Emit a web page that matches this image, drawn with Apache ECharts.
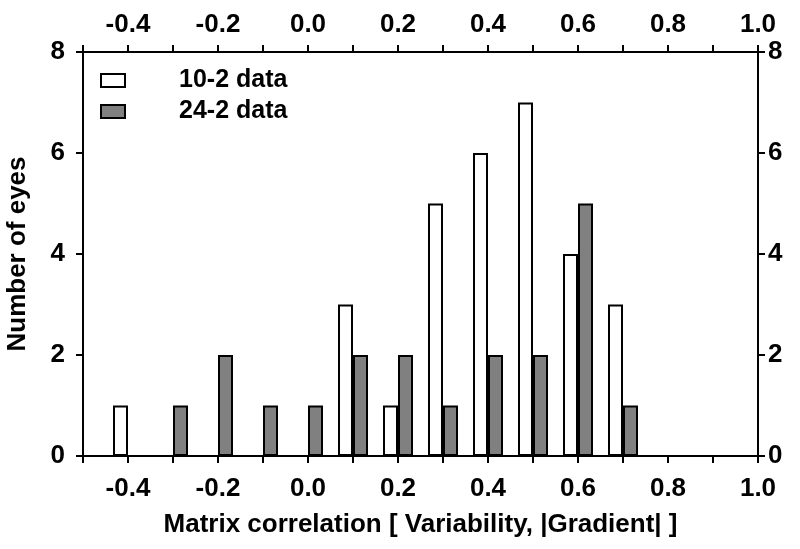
<!DOCTYPE html>
<html>
<head>
<meta charset="utf-8">
<script src="https://cdn.jsdelivr.net/npm/echarts@6/dist/echarts.min.js"></script>
<style>html,body{margin:0;padding:0;background:#fff}#c{width:800px;height:549px}</style>
</head>
<body>
<div id="c"></div>
<script>
// Bin centres (matrix correlation)
var bins = [-0.4, -0.3, -0.2, -0.1, 0.0, 0.1, 0.2, 0.3, 0.4, 0.5, 0.6, 0.7];
// Number of eyes per bin
var data102 = [1, 0, 0, 0, 0, 3, 1, 5, 6, 7, 4, 3];
var data242 = [0, 1, 2, 1, 1, 2, 2, 1, 2, 2, 5, 1];
var seriesNames = ['10-2 data', '24-2 data'];
var xTitle = 'Matrix correlation [ Variability, |Gradient| ]';
var yTitle = 'Number of eyes';

function pairs(vals) {
  var out = [];
  for (var i = 0; i < bins.length; i++) if (vals[i] > 0) out.push([bins[i], vals[i]]);
  return out;
}
var FONT = 'Liberation Sans, Arial, sans-serif';
var lab = { fontFamily: FONT, fontWeight: 'bold', fontSize: 26, color: '#000' };
function xFmt(v) {
  var k = Math.round(v * 10);
  return (k % 2 === 0) ? (k / 10).toFixed(1) : '';
}
var axLine = { show: true, onZero: false, lineStyle: { color: '#000', width: 2 } };
var axTick = { show: true, inside: false, length: 7, lineStyle: { color: '#000', width: 2 } };
var nameStyle = { fontFamily: FONT, fontWeight: 'bold', fontSize: 26, color: '#000' };

var chart = echarts.init(document.getElementById('c'), null, { renderer: 'canvas' });
chart.setOption({
  backgroundColor: '#fff',
  animation: false,
  grid: { left: 83, right: 42, top: 52, bottom: 93, containLabel: false, outerBoundsMode: 'none' },
  legend: {
    orient: 'vertical', left: 95, top: 63,
    itemWidth: 24, itemHeight: 13, itemGap: 6,
    icon: 'rect',
    textStyle: { fontFamily: FONT, fontWeight: 'bold', fontSize: 25, color: '#000', padding: [0, 0, 0, 49] },
    data: seriesNames
  },
  xAxis: [{
    type: 'value', position: 'bottom', min: -0.5, max: 1.0, interval: 0.1,
    axisLine: axLine, axisTick: axTick, splitLine: { show: false },
    axisLabel: Object.assign({}, lab, { margin: 20, formatter: xFmt }),
    name: xTitle, nameLocation: 'middle', nameGap: 56, nameTextStyle: nameStyle
  }, {
    type: 'value', position: 'top', min: -0.5, max: 1.0, interval: 0.1,
    axisLine: axLine, axisTick: axTick, splitLine: { show: false },
    axisLabel: Object.assign({}, lab, { margin: 14, formatter: xFmt })
  }],
  yAxis: [{
    type: 'value', position: 'left', min: 0, max: 8, interval: 2,
    axisLine: axLine, axisTick: axTick, splitLine: { show: false },
    axisLabel: Object.assign({}, lab, { margin: 18 }),
    name: yTitle, nameLocation: 'middle', nameGap: 52, nameRotate: 90, nameTextStyle: nameStyle
  }, {
    type: 'value', position: 'right', min: 0, max: 8, interval: 2,
    axisLine: axLine, axisTick: axTick, splitLine: { show: false },
    axisLabel: Object.assign({}, lab, { margin: 10 })
  }],
  series: [{
    name: seriesNames[0], type: 'bar', xAxisIndex: 0, yAxisIndex: 0,
    barWidth: 15, barGap: '0%',
    itemStyle: { color: '#ffffff', borderColor: '#000', borderWidth: 2 },
    data: pairs(data102)
  }, {
    name: seriesNames[1], type: 'bar', xAxisIndex: 0, yAxisIndex: 0,
    barWidth: 15, barGap: '0%',
    itemStyle: { color: '#808080', borderColor: '#000', borderWidth: 2 },
    data: pairs(data242)
  }]
});
</script>
</body>
</html>
